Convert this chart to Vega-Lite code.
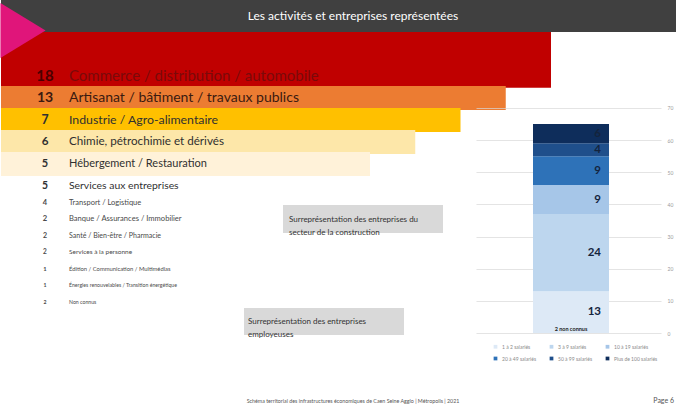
{
  "$schema": "https://vega.github.io/schema/vega-lite/v6.json",
  "padding": 0,
  "background": "white",
  "spacing": 0,
  "bounds": "flush",
  "config": {"view": {"stroke": null}, "font": "Lato"},
  "vconcat": [
    {
      "width": 676,
      "height": 32,
      "view": {"fill": "#404040", "stroke": null},
      "data": {"values": [{"titre": "Les activités et entreprises représentées"}]},
      "mark": {"type": "text", "color": "white", "fontSize": 12, "dx": 14, "baseline": "middle"},
      "encoding": {"text": {"field": "titre"}}
    },
    {
      "spacing": 0,
      "bounds": "flush",
      "hconcat": [
        {
          "width": 475,
          "height": 384,
          "data": {"values": [
            {"rang": 1, "nombre": 18, "secteur": "Commerce / distribution / automobile"},
            {"rang": 2, "nombre": 13, "secteur": "Artisanat / bâtiment / travaux publics"},
            {"rang": 3, "nombre": 7, "secteur": "Industrie / Agro-alimentaire"},
            {"rang": 4, "nombre": 6, "secteur": "Chimie, pétrochimie et dérivés"},
            {"rang": 5, "nombre": 5, "secteur": "Hébergement / Restauration"},
            {"rang": 6, "nombre": 5, "secteur": "Services aux entreprises"},
            {"rang": 7, "nombre": 4, "secteur": "Transport / Logistique"},
            {"rang": 8, "nombre": 2, "secteur": "Banque / Assurances / Immobilier"},
            {"rang": 9, "nombre": 2, "secteur": "Santé / Bien-être / Pharmacie"},
            {"rang": 10, "nombre": 2, "secteur": "Services à la personne"},
            {"rang": 11, "nombre": 1, "secteur": "Édition / Communication / Multimédias"},
            {"rang": 12, "nombre": 1, "secteur": "Énergies renouvelables / Transition énergétique"},
            {"rang": 13, "nombre": 2, "secteur": "Non connus"}
          ]},
          "resolve": {"scale": {"color": "independent"}},
          "layer": [
            {
              "transform": [{"filter": "datum.rang == 1"}],
              "mark": {"type": "rect", "color": "#c00000"},
              "encoding": {
                "x": {"field": "rang", "type": "quantitative", "stack": null, "scale": {"domain": [1, 5], "range": [550, 369], "nice": false, "zero": false}, "axis": null},
                "x2": {"value": 0},
                "y": {"field": "rang", "type": "quantitative", "stack": null, "scale": {"domain": [1, 6, 13], "range": [38, 154, 274], "nice": false, "zero": false}, "axis": null},
                "y2": {"value": 0}
              }
            },
            {
              "transform": [{"filter": "datum.rang <= 5"}],
              "mark": {"type": "bar", "orient": "horizontal", "height": 24},
              "encoding": {
                "x": {"field": "rang", "type": "quantitative", "stack": null, "scale": {"domain": [1, 5], "range": [550, 369], "nice": false, "zero": false}, "axis": null},
                "x2": {"value": 0},
                "y": {"field": "rang", "type": "quantitative", "stack": null, "scale": {"domain": [1, 6, 13], "range": [38, 154, 274], "nice": false, "zero": false}, "axis": null},
                "color": {"field": "rang", "type": "ordinal", "scale": {"domain": [1, 2, 3, 4, 5], "range": ["#c00000", "#ec7c32", "#ffc000", "#fde7a9", "#fff2d9"]}, "legend": null}
              }
            },
            {
              "data": {"values": [{"deco": "triangle"}]},
              "mark": {"type": "point", "shape": "M-0.82,-1L0.82,0L-0.82,1Z", "filled": true, "color": "#e0157a", "opacity": 1, "size": 3025},
              "encoding": {"x": {"value": 22}, "y": {"value": -1.5}}
            },
            {
              "mark": {"type": "text", "fontWeight": "bold", "align": "center", "baseline": "middle"},
              "encoding": {
                "x": {"value": 44},
                "y": {"field": "rang", "type": "quantitative", "scale": {"domain": [1, 6, 13], "range": [38, 154, 274], "nice": false, "zero": false}, "axis": null},
                "text": {"field": "nombre", "type": "quantitative"},
                "size": {"field": "rang", "type": "quantitative", "scale": {"domain": [1, 2, 3, 5, 6, 7, 8, 10, 12], "range": [15, 14, 12.3, 11, 10.4, 7.5, 7.6, 6.5, 5.2], "clamp": true, "zero": false, "nice": false}, "legend": null},
                "color": {"field": "rang", "type": "quantitative", "scale": {"type": "threshold", "domain": [2, 3, 7], "range": ["#4a0000", "#3b1a10", "#303030", "#4a4a4a"]}, "legend": null}
              }
            },
            {
              "mark": {"type": "text", "align": "left", "baseline": "middle"},
              "encoding": {
                "x": {"value": 68},
                "y": {"field": "rang", "type": "quantitative", "scale": {"domain": [1, 6, 13], "range": [38, 154, 274], "nice": false, "zero": false}, "axis": null},
                "text": {"field": "secteur", "type": "nominal"},
                "size": {"field": "rang", "type": "quantitative", "scale": {"domain": [1, 2, 3, 5, 6, 7, 8, 10, 12], "range": [15.5, 14.3, 12.3, 11, 10.4, 7.5, 7.6, 6.5, 5.2], "clamp": true, "zero": false, "nice": false}, "legend": null},
                "color": {"field": "rang", "type": "quantitative", "scale": {"type": "threshold", "domain": [2, 3, 7], "range": ["#7a0a0a", "#3b1a10", "#303030", "#4a4a4a"]}, "legend": null}
              }
            },
            {
              "data": {"values": [{"note": "Surreprésentation des entreprises du\nsecteur de la construction"}]},
              "layer": [
                {"mark": {"type": "rect", "color": "#d9d9d9"}, "encoding": {"x": {"value": 282}, "x2": {"value": 442}, "y": {"value": 173}, "y2": {"value": 201}}},
                {"mark": {"type": "text", "align": "left", "baseline": "middle", "fontSize": 8, "lineBreak": "\n", "lineHeight": 13, "color": "#333333"}, "encoding": {"x": {"value": 288}, "y": {"value": 187.5}, "text": {"field": "note"}}}
              ]
            },
            {
              "data": {"values": [{"note": "Surreprésentation des entreprises\nemployeuses"}]},
              "layer": [
                {"mark": {"type": "rect", "color": "#d9d9d9"}, "encoding": {"x": {"value": 243}, "x2": {"value": 403}, "y": {"value": 276}, "y2": {"value": 303}}},
                {"mark": {"type": "text", "align": "left", "baseline": "middle", "fontSize": 8, "lineBreak": "\n", "lineHeight": 13, "color": "#333333"}, "encoding": {"x": {"value": 247}, "y": {"value": 289.5}, "text": {"field": "note"}}}
              ]
            },
            {
              "data": {"values": [{"pied": "Schéma territorial des infrastructures économiques de Caen Seine Agglo | Métropolis | 2021", "page": "Page 6"}]},
              "layer": [
                {"mark": {"type": "text", "align": "center", "baseline": "middle", "fontSize": 5.3, "color": "#555555"}, "encoding": {"x": {"value": 352}, "y": {"value": 369}, "text": {"field": "pied"}}},
                {"mark": {"type": "text", "align": "right", "baseline": "middle", "fontSize": 7, "color": "#555555"}, "encoding": {"x": {"value": 673}, "y": {"value": 369}, "text": {"field": "page"}}}
              ]
            }
          ]
        },
        {
          "width": 185,
          "height": 384,
          "data": {"values": [
            {"groupe": "Entreprises", "taille": "1 à 2 salariés", "ordre": 1, "nombre": 13},
            {"groupe": "Entreprises", "taille": "3 à 9 salariés", "ordre": 2, "nombre": 24},
            {"groupe": "Entreprises", "taille": "10 à 19 salariés", "ordre": 3, "nombre": 9},
            {"groupe": "Entreprises", "taille": "20 à 49 salariés", "ordre": 4, "nombre": 9},
            {"groupe": "Entreprises", "taille": "50 à 99 salariés", "ordre": 5, "nombre": 4},
            {"groupe": "Entreprises", "taille": "Plus de 100 salariés", "ordre": 6, "nombre": 6}
          ]},
          "layer": [
            {
              "transform": [{"stack": "nombre", "groupby": ["groupe"], "sort": [{"field": "ordre", "order": "ascending"}], "as": ["y0", "y1"]}],
              "mark": {"type": "bar"},
              "encoding": {
                "x": {"field": "groupe", "type": "nominal", "scale": {"type": "band", "paddingInner": 0, "paddingOuter": 0.717, "align": 0.523}, "axis": null},
                "y": {"field": "y0", "type": "quantitative", "scale": {"domain": [-25.8, 93.6], "nice": false, "zero": false},
                      "axis": {"orient": "right", "values": [0, 10, 20, 30, 40, 50, 60, 70], "grid": true, "gridColor": "#d9d9d9", "gridWidth": 0.7, "domain": false, "ticks": false, "labelFontSize": 5, "labelColor": "#9a9a9a", "labelPadding": 6, "title": null}},
                "y2": {"field": "y1"},
                "color": {"field": "taille", "type": "nominal",
                  "scale": {"domain": ["1 à 2 salariés", "3 à 9 salariés", "10 à 19 salariés", "20 à 49 salariés", "50 à 99 salariés", "Plus de 100 salariés"], "range": ["#dde9f6", "#bdd6ee", "#a6c6e8", "#2e72b8", "#1f4f8b", "#0e2d5b"]},
                  "legend": {"title": null, "orient": "none", "legendX": 492, "legendY": 344, "columns": 3, "direction": "horizontal", "symbolType": "square", "symbolSize": 14, "labelFontSize": 5, "labelColor": "#8a8a8a", "columnPadding": 12, "rowPadding": 6, "symbolStrokeWidth": 0}}
              }
            },
            {
              "transform": [{"stack": "nombre", "groupby": ["groupe"], "sort": [{"field": "ordre", "order": "ascending"}], "as": ["y0", "y1"]}, {"calculate": "(datum.y0 + datum.y1) / 2", "as": "ymid"}],
              "mark": {"type": "text", "align": "right", "baseline": "middle", "dx": 30, "fontWeight": "bold", "fontSize": 11.5, "color": "#14243d"},
              "encoding": {
                "x": {"field": "groupe", "type": "nominal"},
                "y": {"field": "ymid", "type": "quantitative"},
                "text": {"field": "nombre", "type": "quantitative"}
              }
            },
            {
              "data": {"values": [{"groupe": "Entreprises", "libelle": "2 non connus"}]},
              "mark": {"type": "text", "align": "center", "baseline": "bottom", "dy": -1, "fontWeight": "bold", "fontSize": 5.5, "color": "#222222"},
              "encoding": {
                "x": {"field": "groupe", "type": "nominal"},
                "y": {"datum": 0, "type": "quantitative"},
                "text": {"field": "libelle"}
              }
            }
          ]
        }
      ]
    }
  ]
}
